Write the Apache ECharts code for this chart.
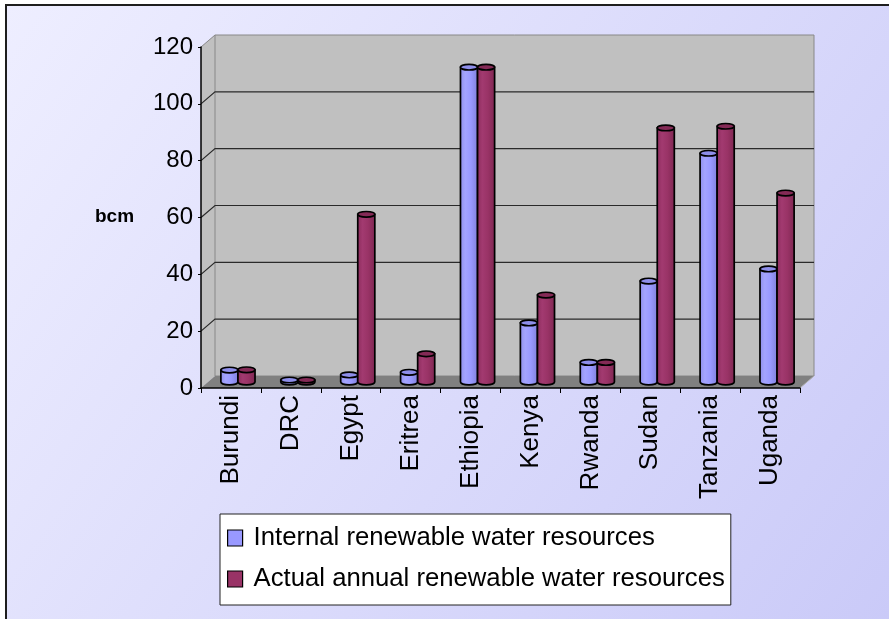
<!DOCTYPE html>
<html>
<head>
<meta charset="utf-8">
<script src="https://cdn.jsdelivr.net/npm/echarts@6/dist/echarts.min.js"></script>
<style>
  html, body { margin: 0; padding: 0; background: #ffffff; }
  #chart { width: 889px; height: 619px; }
</style>
</head>
<body>
<div id="chart"></div>
<script>
// Nile basin countries, renewable water resources in bcm
const categories = ['Burundi', 'DRC', 'Egypt', 'Eritrea', 'Ethiopia', 'Kenya', 'Rwanda', 'Sudan', 'Tanzania', 'Uganda'];
const internalWater = [4.2, 0.7, 2.5, 3.4, 110.8, 20.8, 6.9, 35.5, 80.5, 39.8];
const actualWater = [4.3, 0.7, 59, 9.9, 110.8, 30.6, 6.9, 89.4, 90, 66.5];
const yTicks = [0, 20, 40, 60, 80, 100, 120];
const seriesNames = ['Internal renewable water resources', 'Actual annual renewable water resources'];

const FONT = "'Liberation Sans', Arial, sans-serif";
// oblique depth of the 3D box (back wall offset from the front plane)
const DX = 14, DY = -12;
const WALL = '#c0c0c0', FLOOR = '#808080', EDGE = '#888888', GRID = '#2a2a2a';

const chart = echarts.init(document.getElementById('chart'), null, { renderer: 'canvas' });

const gridBox = { width: 599, height: 341 };
const frontGrid = Object.assign({ left: 201, top: 47 }, gridBox);
const midGrid = Object.assign({ left: 201 + DX / 2, top: 47 + DY / 2 }, gridBox);

function yAxisBase(idx, show) {
  return {
    type: 'value', gridIndex: idx, min: yTicks[0], max: yTicks[yTicks.length - 1], interval: 20,
    show: show
  };
}

// walls of the box, built from the front grid rectangle
function renderBox(params, api) {
  const cs = params.coordSys;
  const x = cs.x, y = cs.y, w = cs.width, h = cs.height;
  return {
    type: 'group',
    children: [
      { type: 'polygon', shape: { points: [[x, y + h], [x, y], [x + DX, y + DY], [x + DX, y + h + DY]] },
        style: { fill: WALL, stroke: null } },
      { type: 'rect', shape: { x: x + DX, y: y + DY, width: w, height: h },
        style: { fill: WALL, stroke: EDGE, lineWidth: 1 } },
      { type: 'line', shape: { x1: x, y1: y, x2: x + DX, y2: y + DY }, style: { stroke: EDGE, lineWidth: 1 } }
    ]
  };
}

// gridlines on the left and back walls
function renderGridline(params, api) {
  const cs = params.coordSys;
  const v = api.value(0);
  if (v === yTicks[0] || v === yTicks[yTicks.length - 1]) return null;
  const py = api.coord([0, v])[1];
  const x = cs.x, w = cs.width;
  return {
    type: 'polyline',
    shape: { points: [[x, py], [x + DX, py + DY], [x + DX + w, py + DY]] },
    style: { stroke: GRID, lineWidth: 1.2, fill: null }
  };
}

function renderFloor(params, api) {
  const cs = params.coordSys;
  const x = cs.x, y = cs.y, w = cs.width, h = cs.height;
  const b = y + h;
  return {
    type: 'group',
    children: [
      { type: 'polygon', shape: { points: [[x, b], [x + w, b], [x + w + DX, b + DY], [x + DX, b + DY]] },
        style: { fill: FLOOR, stroke: null } },
      { type: 'line', shape: { x1: x + w, y1: b, x2: x + w + DX, y2: b + DY }, style: { stroke: '#b0b0b0', lineWidth: 1 } }
    ]
  };
}

const barPalette = [
  { face: ['#8d8de8', '#a4a4ff', '#9999ff', '#7f7fd8'], top: '#8e8eea', legend: '#9999ff' },
  { face: ['#8a2c5b', '#a23a70', '#993366', '#7d2751'], top: '#842a56', legend: '#993366' }
];

function makeBarRenderer(side) {
  const pal = barPalette[side];
  return function (params, api) {
    const idx = api.value(0);
    const val = api.value(1);
    const topPt = api.coord([idx, val]);
    const basePt = api.coord([idx, 0]);
    const band = api.size([1, 0])[0];
    const bw = band * 0.285;
    const x0 = side === 0 ? topPt[0] - bw : topPt[0];
    const x1 = x0 + bw;
    const rx = bw / 2, ry = 2.8;
    const ty = topPt[1], by = basePt[1];
    const body = 'M' + x0 + ',' + ty + ' L' + x0 + ',' + by +
      ' A' + rx + ',' + ry + ' 0 0 0 ' + x1 + ',' + by +
      ' L' + x1 + ',' + ty + ' Z';
    return {
      type: 'group',
      children: [
        { type: 'path', shape: { pathData: body },
          style: {
            fill: new echarts.graphic.LinearGradient(0, 0, 1, 0, [
              { offset: 0, color: pal.face[0] },
              { offset: 0.3, color: pal.face[1] },
              { offset: 0.6, color: pal.face[2] },
              { offset: 1, color: pal.face[3] }
            ]),
            stroke: '#000', lineWidth: 1.7
          } },
        { type: 'ellipse', shape: { cx: x0 + rx, cy: ty, rx: rx, ry: ry },
          style: { fill: pal.top, stroke: '#000', lineWidth: 1.6 } }
      ]
    };
  };
}

const option = {
  backgroundColor: '#ffffff',
  animation: false,
  textStyle: { fontFamily: FONT },
  graphic: [
    { type: 'rect', z: -10, shape: { x: 6, y: 5, width: 883, height: 614 },
      style: {
        fill: new echarts.graphic.LinearGradient(0, 0, 1, 1, [
          { offset: 0, color: '#eeeeff' },
          { offset: 1, color: '#cacaf8' }
        ])
      } },
    { type: 'polyline', z: -9, shape: { points: [[6, 619], [6, 5], [889, 5]] },
      style: { stroke: '#1e1e1e', lineWidth: 2, fill: null } },
    { type: 'text', left: 95, top: 207,
      style: { text: 'bcm', font: 'bold 19px ' + FONT, fill: '#000' } }
  ],
  grid: [frontGrid, midGrid],
  xAxis: [
    {
      type: 'category', gridIndex: 0, data: categories, z: 10,
      axisLine: { show: true, lineStyle: { color: '#000', width: 1.5 } },
      axisTick: { show: true, length: 5, lineStyle: { color: '#000' } },
      axisLabel: { rotate: 90, fontSize: 26, color: '#000', margin: 7, fontFamily: FONT, interval: 0 },
      splitLine: { show: false }
    },
    { type: 'category', gridIndex: 1, data: categories, show: false }
  ],
  yAxis: [
    Object.assign(yAxisBase(0, true), {
      z: 10,
      axisLine: { show: true, lineStyle: { color: '#000', width: 1.5 } },
      axisTick: { show: true, length: 3, lineStyle: { color: '#000' } },
      axisLabel: { fontSize: 24, color: '#000', margin: 8, fontFamily: FONT },
      splitLine: { show: false }
    }),
    yAxisBase(1, false)
  ],
  legend: {
    orient: 'vertical',
    left: 220, top: 514,
    backgroundColor: '#ffffff',
    borderColor: '#222',
    borderWidth: 1,
    borderRadius: 0,
    padding: [11, 6, 13, 7],
    itemWidth: 15, itemHeight: 16, itemGap: 15,
    selectedMode: false,
    textStyle: { fontSize: 25.7, color: '#000', fontFamily: FONT, lineHeight: 26, padding: [0, 0, 0, 6] },
    data: seriesNames.map(function (n, i) {
      return { name: n, icon: 'rect',
        itemStyle: { color: barPalette[i].legend, borderColor: '#000', borderWidth: 1.2 } };
    })
  },
  series: [
    { type: 'custom', name: 'box', xAxisIndex: 0, yAxisIndex: 0, z: 0, silent: true,
      renderItem: renderBox, data: [[0, 0]] },
    { type: 'custom', name: 'gridlines', xAxisIndex: 0, yAxisIndex: 0, z: 1, silent: true,
      renderItem: renderGridline, encode: { y: 0 }, data: yTicks.map(function (v) { return [v]; }) },
    { type: 'custom', name: 'floor', xAxisIndex: 0, yAxisIndex: 0, z: 2, silent: true,
      renderItem: renderFloor, data: [[0, 0]] },
    { type: 'custom', name: seriesNames[0], xAxisIndex: 1, yAxisIndex: 1, z: 3,
      renderItem: makeBarRenderer(0), encode: { x: 0, y: 1 },
      itemStyle: { color: barPalette[0].legend },
      data: internalWater.map(function (v, i) { return [i, v]; }) },
    { type: 'custom', name: seriesNames[1], xAxisIndex: 1, yAxisIndex: 1, z: 3,
      renderItem: makeBarRenderer(1), encode: { x: 0, y: 1 },
      itemStyle: { color: barPalette[1].legend },
      data: actualWater.map(function (v, i) { return [i, v]; }) }
  ]
};

chart.setOption(option);
</script>
</body>
</html>
